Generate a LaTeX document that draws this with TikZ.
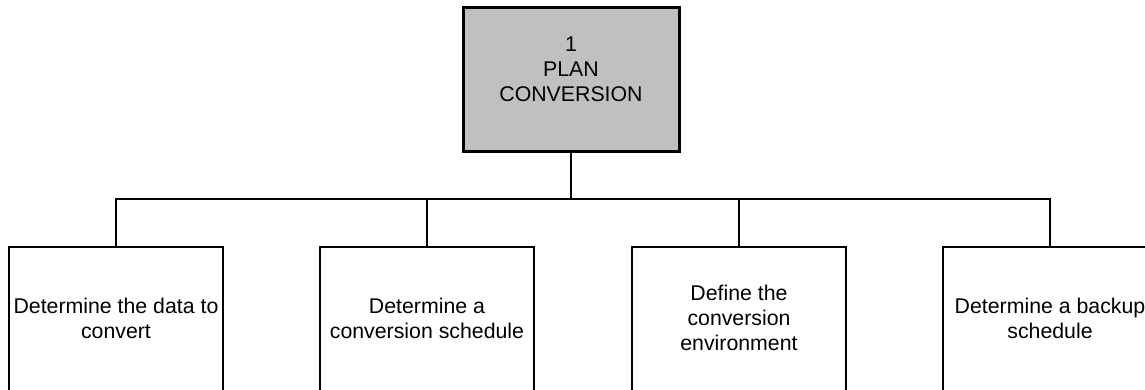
\documentclass[tikz,border=0pt]{standalone}
\usepackage{fontspec}
\setmainfont{Liberation Sans}
\begin{document}
\begin{tikzpicture}[x=1pt,y=1pt,
  lbl/.style={font=\fontsize{21.3}{25}\selectfont, align=center, inner sep=0pt},
  topbox/.style={draw=black, line width=3pt, fill={rgb,255:red,192;green,192;blue,192}, minimum width=216pt, minimum height=144pt, inner sep=0pt},
  childbox/.style={minimum width=214pt, minimum height=142pt, inner sep=0pt, lbl},
  edge/.style={draw=black, line width=1.8pt},
  boxline/.style={draw=black, line width=2pt}]
\useasboundingbox (0,0) rectangle (1145,-389);
\clip (0,0) rectangle (1145,-389);
\fill[white] (0,0) rectangle (1145,-389);
% top box
\node[topbox] (top) at (571,-79) {};
\node[lbl] (toptext) at (571,-69) {1\\PLAN\\CONVERSION};
% children
\node[childbox] (c1) at (116,-318) {Determine the data to\\convert};
\node[childbox] (c2) at (427,-318) {Determine a\\conversion schedule};
\node[childbox] (c3) at (739,-318) {Define the\\conversion\\environment};
\node[childbox] (c4) at (1050,-318) {Determine a backup\\schedule};
\foreach \c in {c1,c2,c3,c4}{
  \draw[boxline] ([yshift=-20pt]\c.south west) |- (\c.north east) -- ([yshift=-20pt]\c.south east);
}
% connectors
\coordinate (bus) at (571,-199);
\draw[edge] (top.south) -- (bus);
\draw[edge] (c1.north) |- (bus) -| (c4.north);
\draw[edge] (c2.north) -- (c2.north |- bus);
\draw[edge] (c3.north) -- (c3.north |- bus);
\end{tikzpicture}
\end{document}
